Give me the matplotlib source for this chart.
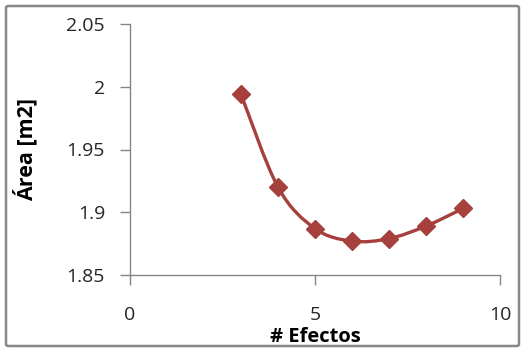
import numpy as np
import matplotlib
matplotlib.use("Agg")
import matplotlib.pyplot as plt
from matplotlib.path import Path
from matplotlib.patches import PathPatch, FancyBboxPatch

efectos = [3, 4, 5, 6, 7, 8, 9]
area = [1.994, 1.920, 1.887, 1.877, 1.879, 1.889, 1.903]
xticks = [0, 5, 10]
yticks = [1.85, 1.90, 1.95, 2.00, 2.05]
ytick_labels = ["1.85", "1.9", "1.95", "2", "2.05"]

red = "#A5403D"
grey = "#868686"

plt.rcParams["font.family"] = ["Open Sans", "DejaVu Sans"]

fig = plt.figure(figsize=(5.28, 3.52), dpi=100)
ax = fig.add_axes([130 / 528, 1 - 275 / 352, 370 / 528, 251 / 352])

# smoothed line: cubic bezier segments through the points (catmull-rom style)
pts = np.column_stack([efectos, area])
verts = [pts[0]]
codes = [Path.MOVETO]
for i in range(len(pts) - 1):
    p0 = pts[max(i - 1, 0)]
    p1 = pts[i]
    p2 = pts[i + 1]
    p3 = pts[min(i + 2, len(pts) - 1)]
    c1 = p1 + (p2 - p0) / 6
    c2 = p2 - (p3 - p1) / 6
    verts += [c1, c2, p2]
    codes += [Path.CURVE4] * 3
ax.add_patch(PathPatch(Path(verts, codes), fill=False, edgecolor=red, lw=2.4, zorder=2))
ax.plot(efectos, area, ls="none", marker="D", ms=9, color=red, zorder=3)

ax.set_xlim(0, 10)
ax.set_ylim(1.85, 2.05)
ax.set_xticks(xticks)
ax.set_yticks(yticks)
ax.set_yticklabels(ytick_labels)
for s in ["top", "right"]:
    ax.spines[s].set_visible(False)
for s in ["left", "bottom"]:
    ax.spines[s].set_color(grey)
    ax.spines[s].set_linewidth(1)
ax.tick_params(axis="both", colors=grey, length=7, width=1, labelcolor="#262626", labelsize=14)
ax.tick_params(axis="y", pad=11)
ax.tick_params(axis="x", pad=15)

ax.set_xlabel("# Efectos", fontsize=14.5, fontweight="bold", color="black")
ax.set_ylabel("Área [m2]", fontsize=15.5, fontweight="bold", color="black")
ax.xaxis.set_label_coords(0.5, -(337 - 275) / 251, transform=ax.transAxes)
ax.yaxis.set_label_coords(-(130 - 25) / 370, 0.5, transform=ax.transAxes)
ax.xaxis.label.set_va("center")
ax.yaxis.label.set_va("center")

# chart border
fig.patches.append(FancyBboxPatch((6 / 528, 6 / 352), 513 / 528, 340 / 352,
                                  boxstyle="round,pad=0,rounding_size=0.005",
                                  transform=fig.transFigure, fill=False,
                                  edgecolor="#888888", lw=1.8))

fig.savefig("out.png", dpi=100)
